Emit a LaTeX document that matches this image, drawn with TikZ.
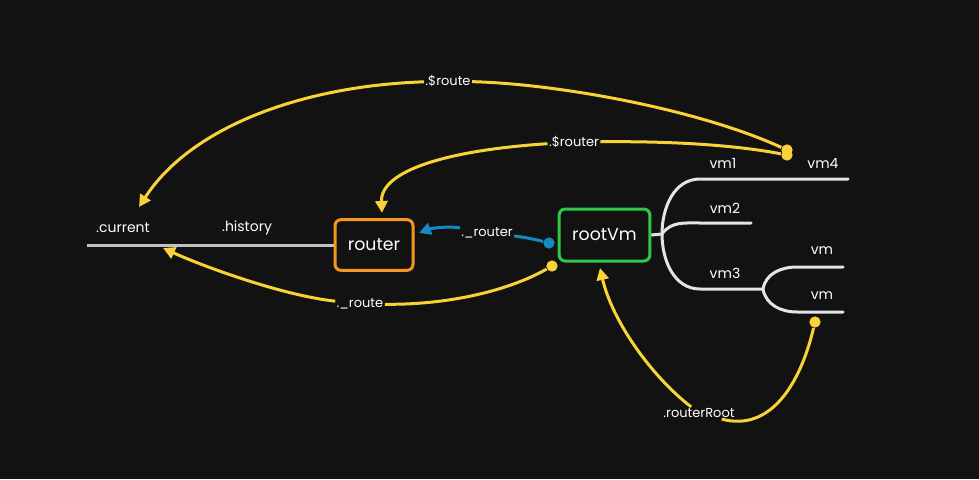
\documentclass[tikz,border=0pt]{standalone}
\usepackage{fontspec}
\setmainfont{Poppins}
\usetikzlibrary{arrows.meta}

\definecolor{bgdark}{RGB}{18,18,18}
\definecolor{linkyellow}{RGB}{249,210,55}
\definecolor{linkblue}{RGB}{22,138,190}
\definecolor{boxorange}{RGB}{245,150,30}
\definecolor{boxgreen}{RGB}{46,200,72}
\definecolor{treegrey}{RGB}{228,228,228}

\tikzset{every picture/.style={line width=0.75pt},
  ylink/.style={draw=linkyellow, line width=2.25pt},
  blink/.style={draw=linkblue, line width=2.25pt},
  tip/.style={-{Triangle[length=9pt,width=9pt]}},
  ydot/.style={circle, fill=linkyellow, inner sep=0pt, minimum size=8.5pt},
  bdot/.style={circle, fill=linkblue, inner sep=0pt, minimum size=8.5pt},
  tree/.style={draw=treegrey, line width=2.25pt, line join=round},
  vmbox/.style={draw, line width=2.25pt, rounded corners=4.5pt, fill=bgdark, text=white, font=\fontsize{13}{15}\selectfont},
  keytext/.style={text=white, inner sep=0.75pt, font=\fontsize{10.5}{12}\selectfont},
  linklabel/.style={text=white, fill=bgdark, inner sep=0.75pt, font=\fontsize{9.75}{11}\selectfont}
}

\begin{document}
\begin{tikzpicture}[x=0.75pt,y=0.75pt,yscale=-1,xscale=1]
%Shape: Background
\path [fill=bgdark] (0,0) rectangle (979,479);

%Shape: Rectangle
\node [vmbox, draw=boxorange, minimum width=58.5pt, minimum height=38pt] (router) at (374,245) {router};
%Shape: Rectangle
\node [vmbox, draw=boxgreen, minimum width=68pt, minimum height=39pt] (rootvm) at (604.5,235) {rootVm};

% Text Node
\node [keytext] (current) at (123,228) {.current};
% Text Node
\node [keytext] (history) at (247,228) {.history};
% Text Node
\node [keytext] (vmone) at (723,163) {vm1};
% Text Node
\node [keytext] (vmfour) at (823,163) {vm4};
% Text Node
\node [keytext] (vmtwo) at (725,208) {vm2};
% Text Node
\node [keytext] (vmthree) at (725,273) {vm3};
% Text Node
\node [keytext] (vmleafa) at (822,251) {vm};
% Text Node
\node [keytext] (vmleafb) at (822,296) {vm};

%Straight Lines
\coordinate (histstart) at (87,245);
\draw [tree, draw=treegrey!85!black] (histstart) -- (router.west);

%Tree Lines (angles flipped because of yscale=-1)
\coordinate (fork) at (662,234);
\coordinate (bendone) at (700,179);   \coordinate (endone) at (848,179);
\coordinate (bendtwo) at (700,223);   \coordinate (endtwo) at (751,223);
\coordinate (bendthree) at (700,289); \coordinate (forkthree) at (763,289);
\coordinate (bendleafa) at (797,267); \coordinate (endleafa) at (843,267);
\coordinate (bendleafb) at (797,312); \coordinate (endleafb) at (843,312);
\draw [tree] (rootvm.east) -- (fork);
\draw [tree, line cap=round] (fork) to[out=-90,in=180] (bendone) -- (endone);
\draw [tree, line cap=round] (fork) to[out=-55,in=180] (bendtwo) -- (endtwo);
\draw [tree, line cap=round] (fork) to[out=90,in=180] (bendthree) -- (forkthree);
\draw [tree, line cap=round] (forkthree) to[out=-80,in=180] (bendleafa) -- (endleafa);
\draw [tree, line cap=round] (forkthree) to[out=80,in=180] (bendleafb) -- (endleafb);

%Shape: Circle
\node [ydot] (dotroute) at (787,150) {};
\node [ydot] (dotrouter) at (787,155) {};
\node [ydot] (dotvmroute) at (552,266) {};
\node [bdot] (dotvmrouter) at (549,243) {};
\node [ydot] (dotleaf) at (815,322) {};

% Text Node
\node [linklabel] (sroute) at (448,81) {.\$route};
% Text Node
\node [linklabel] (srouter) at (574,142) {.\$router};
% Text Node
\node [linklabel] (uroute) at (360,304) {.\_route};
% Text Node
\node [linklabel] (urouter) at (487,233) {.\_router};
% Text Node
\node [linklabel] (rrootlabel) at (699,413) {.routerRoot};

\coordinate (currenttop) at (139,207);
\coordinate (routertop) at (382,213);
\coordinate (currentlow) at (163,248);
\coordinate (routerside) at (419,233);
\coordinate (rootvmlow) at (600,268);

%Curve Lines
\draw [ylink, tip] (dotroute) .. controls (700,110) and (560,84) .. (sroute) .. controls (300,86) and (190,128) .. (currenttop);
%Curve Lines
\draw [ylink, tip] (dotrouter) .. controls (740,146) and (680,141) .. (srouter) .. controls (450,150) and (380,170) .. (routertop);
%Curve Lines
\draw [ylink, tip] (dotvmroute) .. controls (510,290) and (450,305) .. (uroute) .. controls (280,295) and (200,265) .. (currentlow);
%Curve Lines
\draw [blink, tip] (dotvmrouter) .. controls (530,238) and (515,236) .. (urouter) .. controls (450,226) and (432,228) .. (routerside);
%Curve Lines
\draw [ylink, tip] (dotleaf) .. controls (800,385) and (770,432) .. (rrootlabel) .. controls (650,375) and (612,320) .. (rootvmlow);
\end{tikzpicture}
\end{document}
